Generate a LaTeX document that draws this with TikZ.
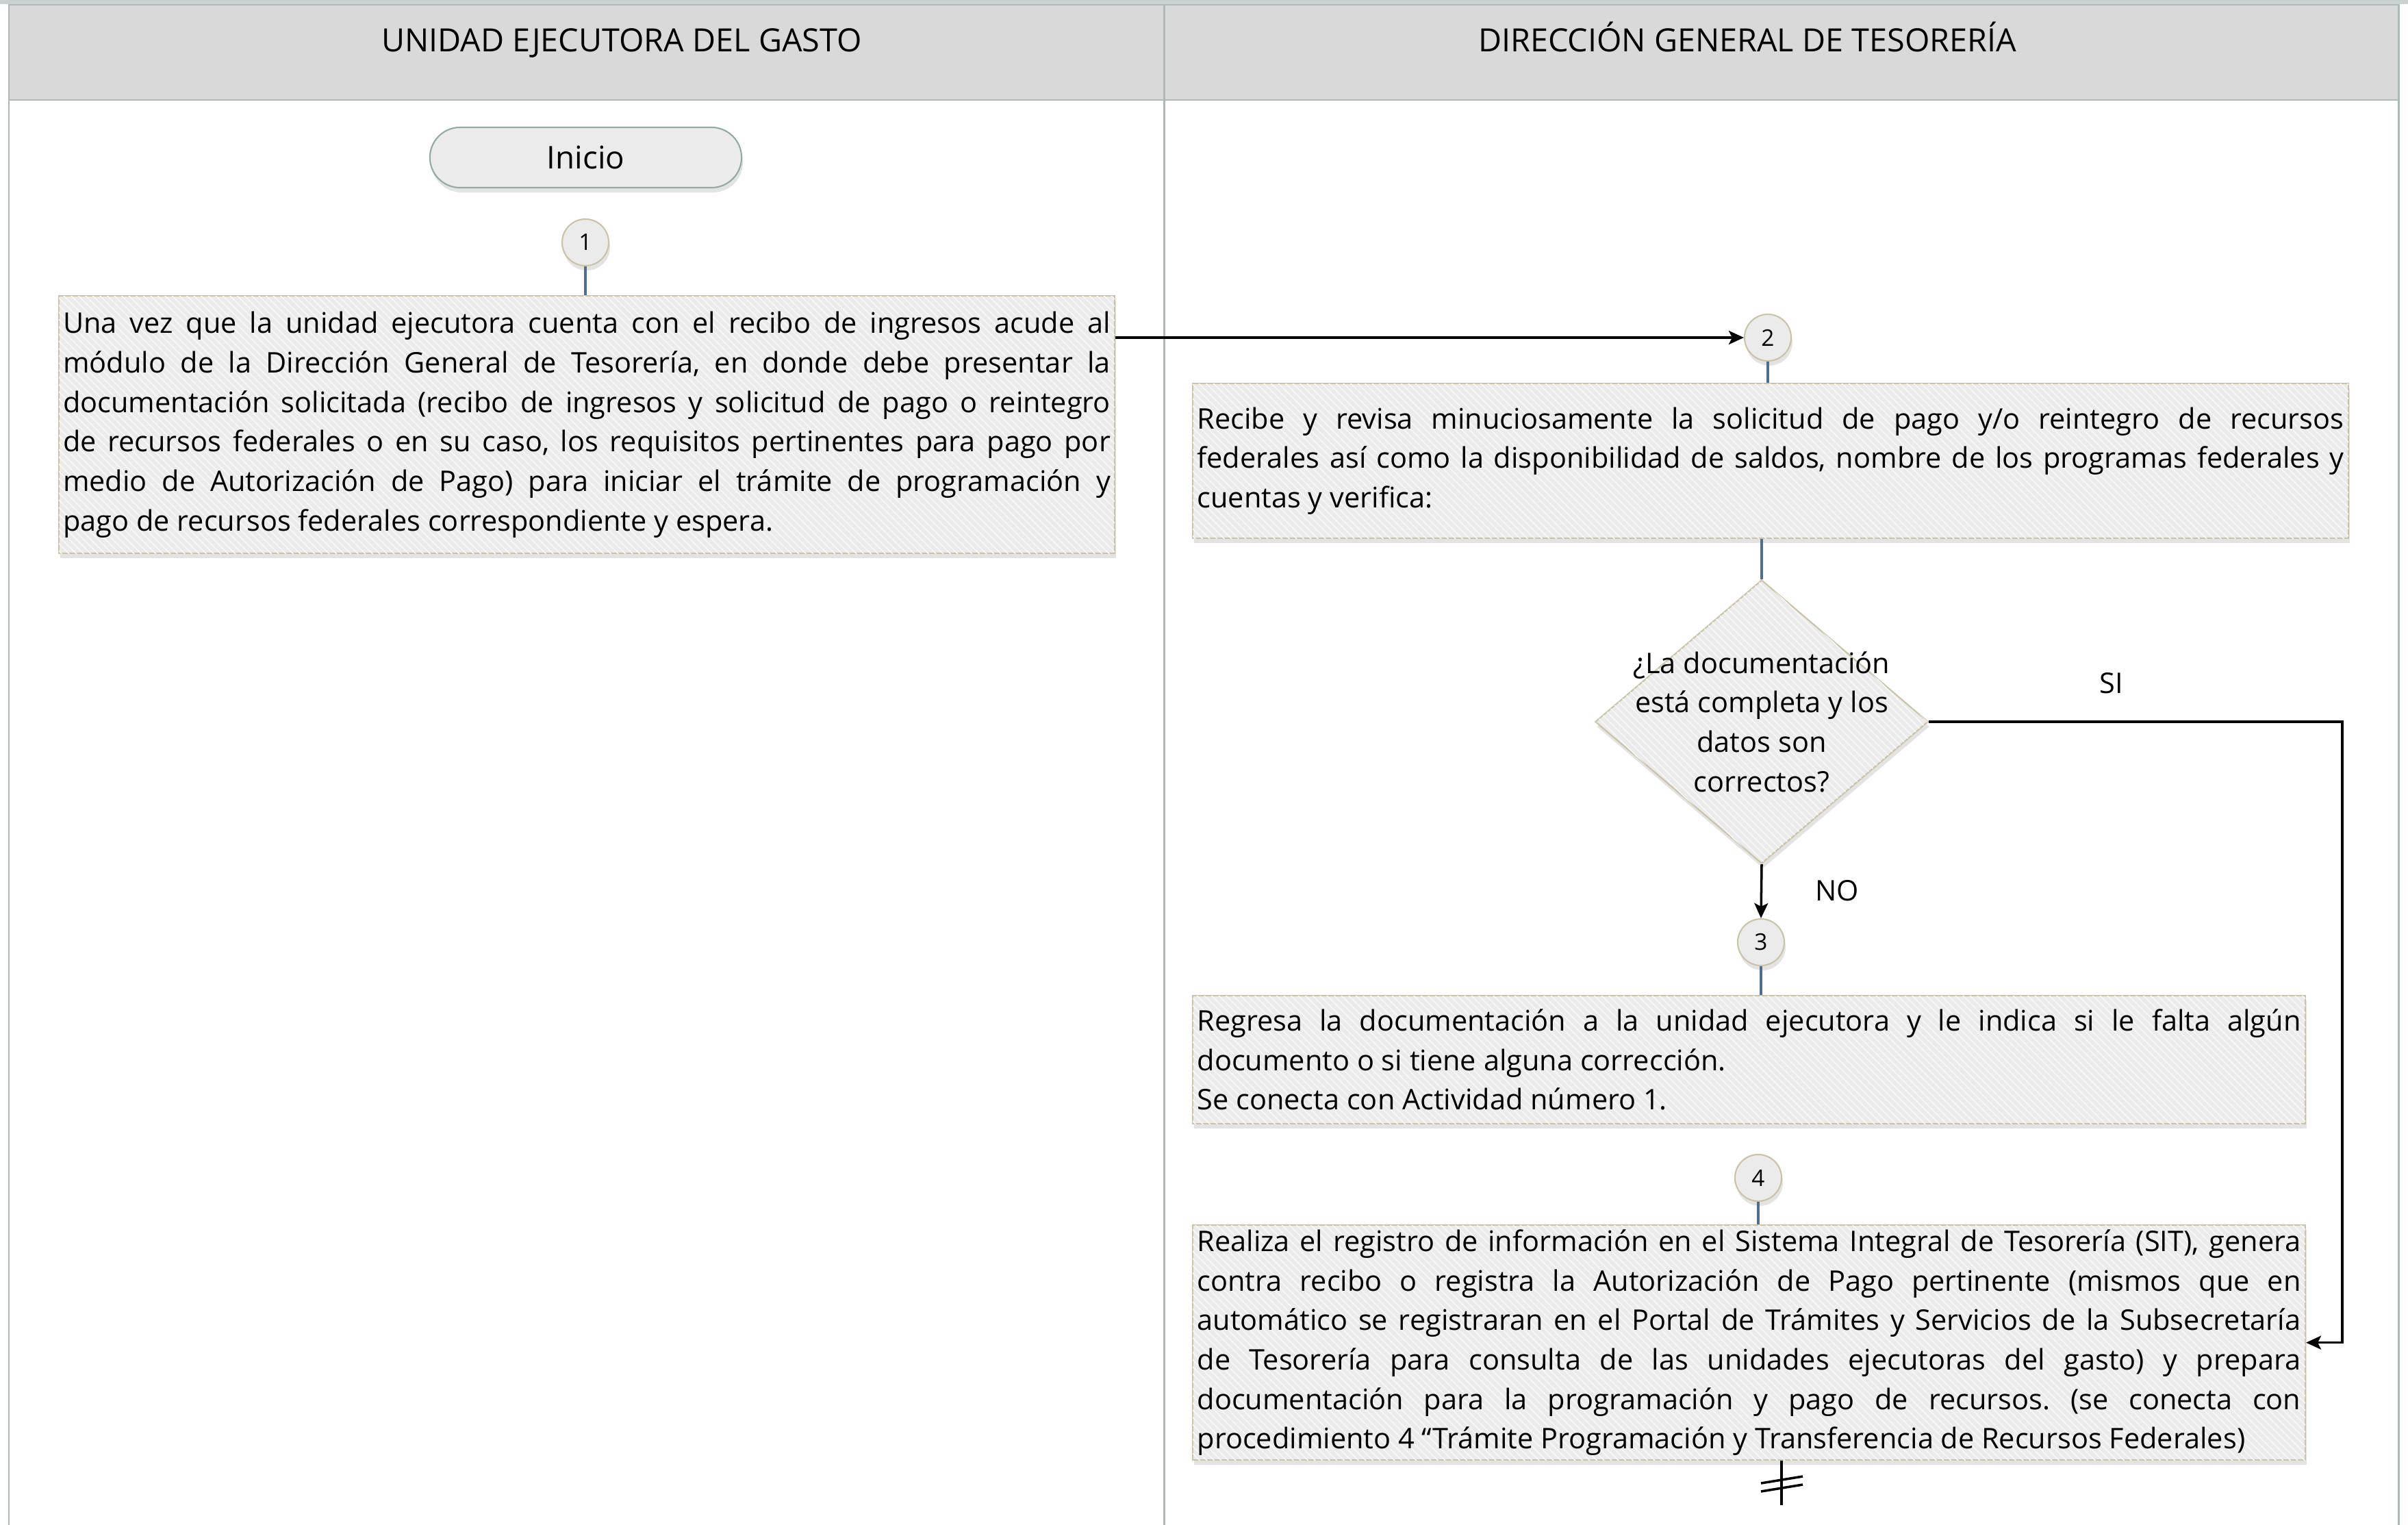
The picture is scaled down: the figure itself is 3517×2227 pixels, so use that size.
\documentclass[tikz,border=0pt]{standalone}
\usepackage{fontspec}
\setmainfont{Open Sans}
\usetikzlibrary{arrows.meta,shapes.geometric,shadows,patterns,calc}
\definecolor{hdrfill}{HTML}{D9D9D9}
\definecolor{hdrtop}{HTML}{C9D2D1}
\definecolor{lanecol}{HTML}{A9BAB8}
\definecolor{boxfill}{HTML}{EBEBEB}
\definecolor{boxline}{HTML}{CCC3A6}
\definecolor{pillline}{HTML}{93A9A6}
\definecolor{linkblue}{HTML}{4F6E8F}
\frenchspacing
\begin{document}
\begin{tikzpicture}[x=0.01cm,y=-0.01cm,
  txt/.style={font=\fontsize{11.8}{16.4}\selectfont},
  shadowed/.style={drop shadow={shadow xshift=0.02cm,shadow yshift=-0.07cm,opacity=0.22}},
  procbox/.style={draw=boxline,line width=0.6pt,fill=boxfill,shadowed,
    postaction={pattern=north west lines,pattern color=white!70!boxfill},
    inner ysep=0pt,align=justify,txt,anchor=north west},
  numcirc/.style={circle,draw=boxline,line width=0.6pt,fill=boxfill,shadowed,
    minimum size=0.68cm,inner sep=0pt,font=\fontsize{9.5}{11}\selectfont},
  pill/.style={rectangle,rounded corners=0.44cm,draw=pillline,line width=0.6pt,fill=boxfill,shadowed,
    minimum width=4.55cm,minimum height=0.88cm,inner sep=0pt,font=\fontsize{13}{15}\selectfont},
  decision/.style={diamond,draw=boxline,line width=0.6pt,fill=boxfill,shadowed,
    postaction={pattern=north west lines,pattern color=white!70!boxfill},
    minimum width=4.86cm,minimum height=4.14cm,inner sep=0pt},
  lane/.style={draw=lanecol,line width=0.85pt},
  hdrtext/.style={font=\fontsize{13.3}{16}\selectfont,anchor=base,inner sep=0pt},
  link/.style={draw=linkblue,line width=0.9pt},
  arr/.style={draw=black,line width=1pt,-{Stealth[length=0.22cm,width=0.2cm,inset=0.05cm]}},
  lbl/.style={txt}
]
\useasboundingbox (0,0) rectangle (3517,2227);
% header and lanes
\fill[hdrtop] (0,0) rectangle (3517,6);
\draw[lane,fill=hdrfill] (13,7) rectangle (3503,146);
\draw[lane] (13,146) -- (13,2227);
\draw[lane] (1700,7) -- (1700,2227);
\draw[lane] (3503,146) -- (3503,2227);
\node[hdrtext] (h1) at (908,75) {UNIDAD EJECUTORA DEL GASTO};
\node[hdrtext] (h2) at (2552,75) {DIRECCIÓN GENERAL DE TESORERÍA};

% nodes
\node[pill] (ini) at (855.5,230) {Inicio};
\node[numcirc] (c1) at (855,354) {1};
\node[procbox,text width=15.29cm,inner xsep=0.06cm,minimum width=15.41cm,minimum height=3.76cm] (b1) at (85,431)
 {\tolerance=10000\hyphenpenalty=10000 Una vez que la unidad ejecutora cuenta con el recibo de ingresos acude al\linebreak
 módulo de la Dirección General de Tesorería, en donde debe presentar la\linebreak
 documentación solicitada (recibo de ingresos y solicitud de pago o reintegro\linebreak
 de recursos federales o en su caso, los requisitos pertinentes para pago por\linebreak
 medio de Autorización de Pago) para iniciar el trámite de programación y\linebreak
 pago de recursos federales correspondiente y espera.};

\node[numcirc] (c2) at (2582,493) {2};
\node[procbox,text width=16.74cm,inner xsep=0.065cm,minimum width=16.87cm,minimum height=2.26cm] (b2) at (1741,559)
 {\tolerance=10000\hyphenpenalty=10000 Recibe y revisa minuciosamente la solicitud de pago y/o reintegro de recursos\linebreak
 federales así como la disponibilidad de saldos, nombre de los programas federales y\linebreak
 cuentas y verifica:};

\node[decision] (d) at (2573,1054) {};
\node[txt,align=center] (dq) at (d.center) {¿La documentación\\está completa y los\\datos son\\correctos?};

\node[numcirc] (c3) at (2572,1376) {3};
\node[procbox,text width=16.11cm,inner xsep=0.065cm,minimum width=16.24cm,minimum height=1.87cm] (b3) at (1741,1453)
 {\tolerance=10000\hyphenpenalty=10000 Regresa la documentación a la unidad ejecutora y le indica si le falta algún\linebreak
 documento o si tiene alguna corrección.\par
 Se conecta con Actividad número 1.};

\node[numcirc] (c4) at (2568,1720) {4};
\node[procbox,text width=16.11cm,inner xsep=0.065cm,minimum width=16.24cm,minimum height=3.43cm] (b4) at (1741,1788)
 {\tolerance=10000\hyphenpenalty=10000 Realiza el registro de información en el Sistema Integral de Tesorería (SIT), genera\linebreak
 contra recibo o registra la Autorización de Pago pertinente (mismos que en\linebreak
 automático se registraran en el Portal de Trámites y Servicios de la Subsecretaría\linebreak
 de Tesorería para consulta de las unidades ejecutoras del gasto) y prepara\linebreak
 documentación para la programación y pago de recursos. (se conecta con\linebreak
 procedimiento 4 “Trámite Programación y Transferencia de Recursos Federales)};

\node[lbl] (si) at (3084,998) {SI};
\node[lbl] (no) at (2683,1301) {NO};

% connectors
\draw[link] (c1.south) -- (b1.north -| c1.south);
\draw[arr] (b1.east |- c2.west) -- (c2.west);
\draw[link] (c2.south) -- (c2.south |- b2.north);
\draw[link] (d.north |- b2.south) -- (d.north);
\coordinate (sicorner) at (3421,1054);
\draw[arr] (d.east) -- (sicorner) |- (b4.east);
\draw[arr] (d.south) -- (c3.north);
\draw[link] (c3.south) -- (c3.south |- b3.north);
\draw[link] (c4.south) -- (c4.south |- b4.north);
\coordinate (brk) at (2602,2198);
\draw[line width=1pt] (brk |- b4.south) -- (brk);
\draw[line width=1pt] (2572,2166) -- (2633,2156);
\draw[line width=1pt] (2572,2178) -- (2633,2168);
\end{tikzpicture}
\end{document}
